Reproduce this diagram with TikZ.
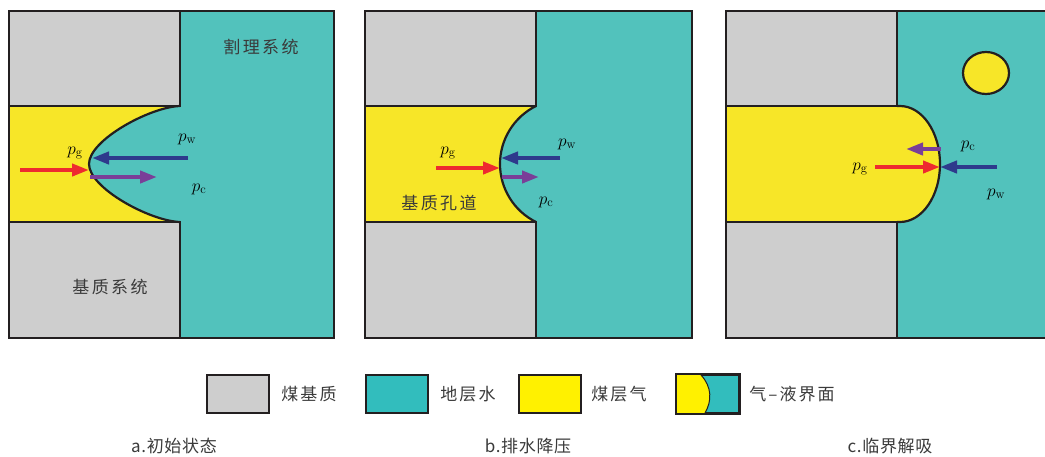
\documentclass[tikz,border=0pt]{standalone}
\usepackage{fontspec}
\newfontfamily\cjk{Noto Sans CJK SC}
\usetikzlibrary{arrows.meta}
\definecolor{coal}{HTML}{CECECE}
\definecolor{water}{HTML}{52C2BC}
\definecolor{gas}{HTML}{F7E628}
\definecolor{keywater}{HTML}{32BDBD}
\definecolor{keygas}{HTML}{FFF100}
\definecolor{edge}{HTML}{231F20}
\definecolor{fred}{HTML}{EE2A2F}
\definecolor{fblue}{HTML}{2E3A8C}
\definecolor{fpurple}{HTML}{7A3F98}
\definecolor{ink}{HTML}{3A3A3A}
\tikzset{
  frame/.style={draw=edge, line width=2.6pt},
  block/.style={fill=coal, draw=edge, line width=2pt},
  meniscus/.style={draw=edge, line width=2.2pt},
  force/.style={line width=4pt, -{Triangle[length=17pt,width=12pt]}},
  plabel/.style={font=\fontsize{18}{18}\selectfont, inner sep=0pt},
  zh/.style={font=\cjk\addfontfeatures{LetterSpace=14}\fontsize{17}{17}\selectfont, text=ink, inner sep=0pt},
  keytext/.style={font=\cjk\addfontfeatures{LetterSpace=12}\fontsize{17}{17}\selectfont, text=ink, inner sep=0pt},
  caption/.style={font=\cjk\addfontfeatures{LetterSpace=4}\fontsize{17}{17}\selectfont, text=ink, inner sep=0pt},
  keybox/.style={draw=edge, line width=2pt, minimum width=62pt, minimum height=38pt, inner sep=0pt}
}
\begin{document}
\begin{tikzpicture}[x=1pt,y=-1pt]
\useasboundingbox (0,0) rectangle (1045,456);

% ---------- a. initial state ----------
\fill[water] (9,11) rectangle (334,338);
\fill[gas] (9,106) -- (180,106) .. controls (150,107) and (89,140) .. (89,164)
  .. controls (89,188) and (150,221) .. (180,222) -- (9,222) -- cycle;
\draw[block] (9,11) rectangle (180,106);
\draw[block] (9,222) rectangle (180,338);
\draw[meniscus] (180,106) .. controls (150,107) and (89,140) .. (89,164)
  .. controls (89,188) and (150,221) .. (180,222);
\draw[frame] (9,11) rectangle (334,338);

\coordinate (ag1) at (20,170);  \coordinate (ag2) at (89,170);
\coordinate (aw1) at (188,158); \coordinate (aw2) at (92,158);
\coordinate (ac1) at (90,177);  \coordinate (ac2) at (157,177);
\draw[force, fred] (ag1) -- (ag2);
\draw[force, fblue] (aw1) -- (aw2);
\draw[force, fpurple] (ac1) -- (ac2);
\node[plabel] (apg) at (75,153) {$p_{\mathrm{g}}$};
\node[plabel] (apw) at (187,139) {$p_{\mathrm{w}}$};
\node[plabel] (apc) at (199,189) {$p_{\mathrm{c}}$};
\node[zh] (acleat) at (261,47) {割理系统};
\node[zh] (amatrix) at (110,287) {基质系统};

% ---------- b. dewatering ----------
\fill[water] (365,11) rectangle (692,338);
\fill[gas] (365,106) -- (536,106) .. controls (514,116.9) and (500,139.4) .. (500,164)
  .. controls (500,188.6) and (514,211.1) .. (536,222) -- (365,222) -- cycle;
\draw[block] (365,11) rectangle (536,106);
\draw[block] (365,222) rectangle (536,338);
\draw[meniscus] (536,106) .. controls (514,116.9) and (500,139.4) .. (500,164)
  .. controls (500,188.6) and (514,211.1) .. (536,222);
\draw[frame] (365,11) rectangle (692,338);

\coordinate (bg1) at (436,168); \coordinate (bg2) at (500,168);
\coordinate (bw1) at (560,158); \coordinate (bw2) at (501,158);
\coordinate (bc1) at (502,177); \coordinate (bc2) at (539,177);
\draw[force, fred] (bg1) -- (bg2);
\draw[force, fblue] (bw1) -- (bw2);
\draw[force, fpurple] (bc1) -- (bc2);
\node[plabel] (bpg) at (448,153) {$p_{\mathrm{g}}$};
\node[plabel] (bpw) at (567,144) {$p_{\mathrm{w}}$};
\node[plabel] (bpc) at (546,202) {$p_{\mathrm{c}}$};
\node[zh] (bpore) at (439,203) {基质孔道};

% ---------- c. critical desorption ----------
\fill[water] (726,11) rectangle (1052,338);
\fill[gas] (726,106) -- (900,106) .. controls (922.1,106) and (940,132) .. (940,164)
  .. controls (940,196) and (922.1,222) .. (900,222) -- (726,222) -- cycle;
\draw[block] (726,11) rectangle (897,106);
\draw[block] (726,222) rectangle (897,338);
\draw[meniscus] (897,106) -- (900,106) .. controls (922.1,106) and (940,132) .. (940,164)
  .. controls (940,196) and (922.1,222) .. (900,222) -- (897,222);
\draw[meniscus, fill=gas] (986,73) ellipse [x radius=23, y radius=21];
\draw[frame] (726,11) rectangle (1052,338);

\coordinate (cg1) at (875,167); \coordinate (cg2) at (940,167);
\coordinate (cw1) at (997,167); \coordinate (cw2) at (940,167);
\coordinate (cc1) at (941,149); \coordinate (cc2) at (906,149);
\draw[force, fred] (cg1) -- (cg2);
\draw[force, fblue] (cw1) -- (cw2);
\draw[force, fpurple] (cc1) -- (cc2);
\node[plabel] (cpc) at (968,146) {$p_{\mathrm{c}}$};
\node[plabel] (cpg) at (860,169) {$p_{\mathrm{g}}$};
\node[plabel] (cpw) at (996,194) {$p_{\mathrm{w}}$};

% ---------- legend ----------
\node[keybox, fill=coal] (k1) at (238,394) {};
\node[keytext] (t1) at (309,394) {煤基质};
\node[keybox, fill=keywater] (k2) at (396.5,394) {};
\node[keytext] (t2) at (468,394) {地层水};
\node[keybox, fill=keygas] (k3) at (549.5,394) {};
\node[keytext] (t3) at (619,394) {煤层气};
\node[keybox, fill=keywater] (k4) at (707.5,394) {};
\fill[keygas] (k4.north west) -- (701,375) .. controls (712,387) and (712,401) .. (705,413)
  -- (k4.south west) -- cycle;
\draw[edge, line width=1pt] (701,375) .. controls (712,387) and (712,401) .. (705,413);
\draw[edge, line width=2pt] (k4.north west) rectangle (k4.south east);
\node[keytext] (t4) at (792,394) {气–液界面};

% ---------- captions ----------
\node[caption] (capa) at (174,446) {a.初始状态};
\node[caption] (capb) at (528,446) {b.排水降压};
\node[caption] (capc) at (890,446) {c.临界解吸};
\end{tikzpicture}
\end{document}
